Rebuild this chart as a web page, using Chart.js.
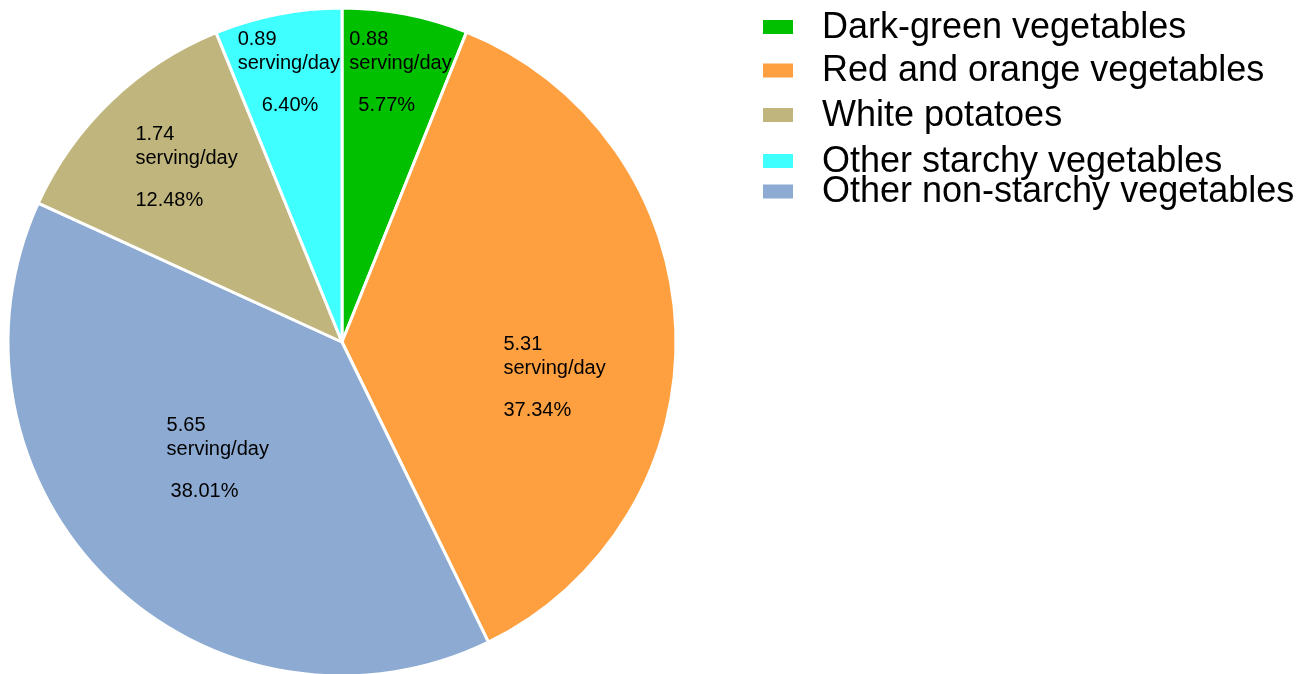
<!DOCTYPE html>
<html>
<head>
<meta charset="utf-8">
<script src="https://cdn.jsdelivr.net/npm/chart.js@4.4.1/dist/chart.umd.min.js"></script>
<style>
    html, body { margin: 0; padding: 0; background: #fff; overflow: hidden; }
    #wrap { position: relative; width: 1308px; height: 684px; }
</style>
</head>
<body>
<div id="wrap"><canvas id="vegChart"></canvas></div>
<script>
// slices in clockwise order from 12 o'clock
const categories = [
    "Dark-green vegetables",
    "Red and orange vegetables",
    "Other non-starchy vegetables",
    "White potatoes",
    "Other starchy vegetables",
];
// slice size follows servings; the % labels are printed as given
const servings = [0.88, 5.31, 5.65, 1.74, 0.89];
const sharePct = [5.77, 37.34, 38.01, 12.48, 6.40];

// legend is listed in a different order than the slices
const legendOrder = [
    "Dark-green vegetables",
    "Red and orange vegetables",
    "White potatoes",
    "Other starchy vegetables",
    "Other non-starchy vegetables",
];

const colours = ["#00c000", "#ffa040", "#8caad2", "#c0b57c", "#40ffff"];

const FONT = "'Liberation Sans', Arial, Helvetica, sans-serif";

// text inside each slice: [radius fraction, angle nudge (deg), indent of % line]
const sliceLabels = {
    id: "sliceLabels",
    afterDatasetsDraw(chart, args, opts) {
        const ctx = chart.ctx;
        const arcs = chart.getDatasetMeta(0).data;
        ctx.save();
        ctx.font = "20px " + FONT;
        ctx.fillStyle = "#000";
        ctx.textBaseline = "middle";
        ctx.textAlign = "left";
        arcs.forEach((arc, i) => {
            const p = arc.getProps(["x", "y", "startAngle", "endAngle", "outerRadius"], true);
            const [frac, nudge, indent] = opts.place[i];
            const a = (p.startAngle + p.endAngle) / 2 + nudge * Math.PI / 180;
            const cx = p.x + Math.cos(a) * p.outerRadius * frac;
            const cy = p.y + Math.sin(a) * p.outerRadius * frac;
            const left = cx - 51;
            ctx.fillText(servings[i].toFixed(2), left, cy - 33);
            ctx.fillText("serving/day", left, cy - 9);
            ctx.fillText(sharePct[i].toFixed(2) + "%", left + indent, cy + 33);
        });
        ctx.restore();
    },
};

const sideLegend = {
    id: "sideLegend",
    afterDraw(chart, args, opts) {
        const ctx = chart.ctx;
        ctx.save();
        ctx.font = "36px " + FONT;
        ctx.textBaseline = "middle";
        ctx.textAlign = "left";
        legendOrder.forEach((name, row) => {
            const i = categories.indexOf(name);
            const y = opts.rows[row];
            ctx.fillStyle = colours[i];
            ctx.fillRect(opts.boxX, y - 7, 30, 14);
            ctx.fillStyle = "#000";
            ctx.fillText(name, opts.textX, y + 1);
        });
        ctx.restore();
    },
};

new Chart(document.getElementById("vegChart"), {
    type: "pie",
    data: {
        labels: categories,
        datasets: [
            {
                data: servings,
                backgroundColor: colours,
                borderColor: "#ffffff",
                borderWidth: 3,
            },
        ],
    },
    options: {
        responsive: true,
        maintainAspectRatio: false,
        animation: false,
        radius: 334,
        layout: {
            padding: { left: 8, top: 8, right: 632, bottom: 8 },
        },
        plugins: {
            legend: { display: false },
            tooltip: { enabled: false },
            sliceLabels: {
                place: [
                    [0.827, 1.25, 9],
                    [0.645, 11.65, 0],
                    [0.511, 2.5, 4],
                    [0.699, 2.0, 0],
                    [0.824, -0.1, 24],
                ],
            },
            sideLegend: {
                boxX: 763,
                textX: 822,
                rows: [27, 70.5, 115, 161, 191.5],
            },
        },
    },
    plugins: [sliceLabels, sideLegend],
});
</script>
</body>
</html>
